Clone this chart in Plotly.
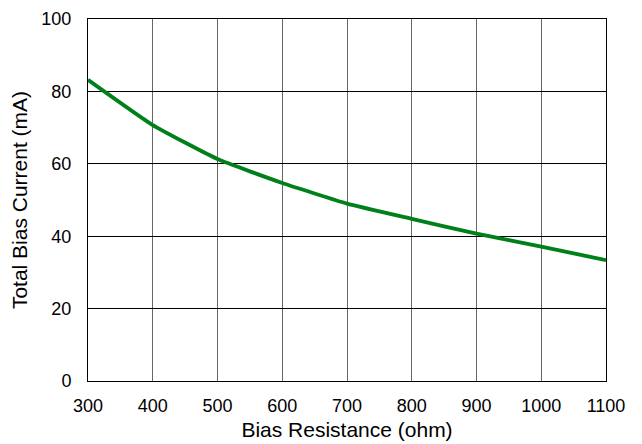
import plotly.graph_objects as go

resistance = [300, 400, 500, 600, 700, 800, 900, 1000, 1100]
current = [83.2, 70.7, 61.3, 54.7, 49.0, 44.8, 40.7, 37.1, 33.4]
x_ticks = [300, 400, 500, 600, 700, 800, 900, 1000, 1100]
y_ticks = [0, 20, 40, 60, 80, 100]

fig = go.Figure()
fig.add_trace(go.Scatter(x=resistance, y=current, mode="lines",
                         line=dict(color="#00801a", width=3.8, shape="spline", smoothing=0.4),
                         showlegend=False))

fig.update_layout(
    width=642, height=444,
    margin=dict(l=80, r=44, t=11, b=71),
    paper_bgcolor="white", plot_bgcolor="white",
    font=dict(family="Liberation Sans, Arial, sans-serif", size=18, color="black"),
)
fig.update_xaxes(range=[300, 1100], tickvals=x_ticks, showgrid=True, gridcolor="#666666", gridwidth=1,
                 showline=True, linecolor="black", linewidth=1, mirror=True, ticks="",
                 ticklabelstandoff=8, automargin=False,
                 title=dict(text="Bias Resistance (ohm)", font=dict(size=21), standoff=7), zeroline=False)
fig.update_yaxes(range=[0, 100], tickvals=y_ticks, showgrid=True, gridcolor="black", gridwidth=1,
                 showline=True, linecolor="black", linewidth=1, mirror=True, ticks="",
                 ticklabelstandoff=12, automargin=False,
                 title=dict(text="Total Bias Current (mA)", font=dict(size=21), standoff=11), zeroline=False)

fig.write_html("out.html")
